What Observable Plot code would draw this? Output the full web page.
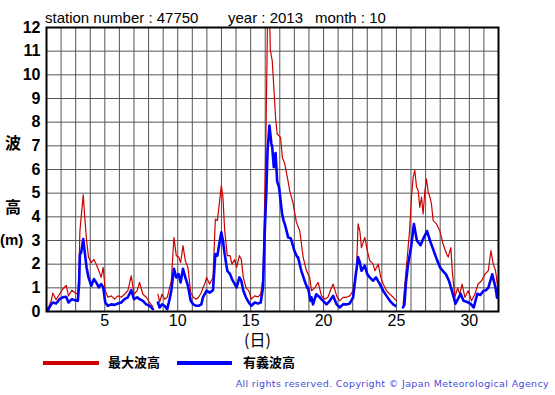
<!DOCTYPE html>
<html>
<head>
<meta charset="utf-8">
<script src="https://cdn.jsdelivr.net/npm/d3@7"></script>
<script src="https://cdn.jsdelivr.net/npm/@observablehq/plot@0.6"></script>
<style>
  html, body { margin: 0; padding: 0; background: #fff; }
  #wrap { position: relative; width: 555px; height: 395px; overflow: hidden; font-family: "Liberation Sans", Arial, sans-serif; }
  .t { position: absolute; white-space: pre; color: #000; line-height: 1; }
  .cjk { font-family: "Noto Sans CJK JP", sans-serif; font-weight: bold; }
  .leg { position: absolute; height: 4px; }
</style>
</head>
<body>
<div id="wrap"></div>
<script>
// ---- data ----
const tickDaysX = [5, 10, 15, 20, 25, 30];
const tickHeightsY = [0, 1, 2, 3, 4, 5, 6, 7, 8, 9, 10, 11, 12];

// significant wave height (有義波高)
const sigDays = [1.0, 1.09, 1.32, 1.43, 1.66, 1.89, 2.12, 2.35, 2.51, 2.74, 2.92, 3.15, 3.24, 3.29, 3.38, 3.52, 3.61, 3.75, 3.88, 4.07, 4.25, 4.41, 4.59, 4.75, 4.89, 5.03, 5.21, 5.44, 5.67, 5.90, 6.13, 6.35, 6.58, 6.81, 7.0, 7.22, 7.38, 7.61, 7.84, 8.07, 8.30, 8.45, 8.64, 8.76, 8.92, 9.10, 9.28, 9.44, 9.56, 9.74, 9.90, 10.06, 10.2, 10.36, 10.52, 10.70, 10.89, 11.07, 11.27, 11.43, 11.62, 11.73, 11.98, 12.19, 12.42, 12.58, 12.72, 12.85, 12.99, 13.1, 13.22, 13.4, 13.59, 13.72, 13.91, 14.04, 14.23, 14.36, 14.5, 14.68, 14.87, 15.05, 15.28, 15.51, 15.69, 15.85, 15.97, 16.08, 16.16, 16.29, 16.42, 16.48, 16.59, 16.71, 16.82, 16.95, 17.05, 17.16, 17.26, 17.34, 17.51, 17.57, 17.74, 17.8, 17.94, 18.0, 18.19, 18.25, 18.42, 18.48, 18.63, 18.7, 18.88, 18.94, 19.1, 19.17, 19.28, 19.5, 19.74, 19.97, 20.2, 20.43, 20.66, 20.9, 21.11, 21.34, 21.57, 21.8, 22.03, 22.2, 22.37, 22.49, 22.6, 22.83, 23.0, 23.17, 23.4, 23.6, 23.86, 24.09, 24.32, 24.55, 24.78, 24.94, 25.2, 25.45, 25.55, 25.65, 25.8, 26.0, 26.2, 26.4, 26.65, 26.86, 27.1, 27.3, 27.55, 27.8, 28.0, 28.2, 28.4, 28.6, 28.8, 29.05, 29.2, 29.4, 29.6, 29.85, 30.08, 30.3, 30.55, 30.75, 30.97, 31.15, 31.3, 31.57, 31.8, 31.9, 32.0];
const sigHeights = [0.1, 0.05, 0.30, 0.38, 0.34, 0.52, 0.60, 0.62, 0.38, 0.52, 0.48, 0.45, 1.2, 2.4, 2.5, 3.06, 2.57, 1.86, 1.44, 1.09, 1.37, 1.23, 1.02, 1.16, 1.02, 0.38, 0.24, 0.30, 0.28, 0.34, 0.38, 0.52, 0.60, 0.90, 0.52, 0.60, 0.52, 0.45, 0.30, 0.24, 0.10, NaN, 0.38, 0.17, 0.30, 0.24, 0.10, 0.52, 0.88, 1.80, 1.44, 1.58, 1.23, 1.80, 1.44, 1.09, 0.45, 0.30, 0.24, 0.24, 0.30, 0.60, 0.88, 0.80, 0.90, 2.43, 2.36, 2.85, 3.35, 3.0, 2.43, 1.72, 1.58, 1.37, 1.16, 1.02, 1.44, 1.30, 0.88, 0.60, 0.38, 0.24, 0.38, 0.34, 0.38, 1.02, 3.4, 5.1, 6.8, 7.86, 7.1, 6.95, 6.1, 6.7, 5.5, 5.25, 4.7, 4.12, 3.84, 3.7, 3.3, 3.13, 3.1, 3.0, 2.7, 2.57, 2.3, 2.3, 1.86, 1.72, 1.43, 1.3, 1.0, 1.0, 0.45, 0.6, 0.3, 0.73, 0.6, 0.45, 0.3, 0.45, 0.66, 0.3, 0.17, 0.3, 0.3, 0.34, 0.6, 1.5, 2.3, 2.07, 1.72, 1.94, 1.58, 1.44, 1.3, 1.44, 1.16, 0.88, 0.66, 0.45, 0.3, 0.24, NaN, 0.17, 0.3, 1.2, 2.0, 2.7, 3.7, 3.0, 2.8, 3.1, 3.4, 3.0, 2.57, 2.15, 1.86, 1.7, 1.57, 1.3, 0.88, 0.33, 0.5, 0.75, 0.45, 0.4, 0.33, 0.17, 0.75, 0.7, 0.88, 0.9, 1.0, 1.57, 1.0, 0.58, 0.95];

// maximum wave height (最大波高)
const maxDays = [1.0, 1.09, 1.32, 1.43, 1.66, 1.89, 2.12, 2.35, 2.51, 2.74, 2.92, 3.15, 3.24, 3.29, 3.38, 3.52, 3.61, 3.75, 3.88, 4.07, 4.25, 4.41, 4.59, 4.75, 4.89, 5.03, 5.21, 5.44, 5.67, 5.90, 6.13, 6.35, 6.58, 6.81, 7.0, 7.22, 7.38, 7.61, 7.84, 8.07, 8.30, 8.45, 8.64, 8.76, 8.92, 9.10, 9.28, 9.44, 9.56, 9.74, 9.90, 10.06, 10.2, 10.36, 10.52, 10.70, 10.89, 11.07, 11.27, 11.43, 11.62, 11.73, 11.85, 11.98, 12.19, 12.42, 12.58, 12.72, 12.85, 12.99, 13.1, 13.22, 13.4, 13.59, 13.72, 13.91, 14.04, 14.23, 14.36, 14.5, 14.68, 14.87, 15.05, 15.28, 15.51, 15.69, 15.85, 15.97, 16.05, 16.12, 16.16, 16.3, 16.35, 16.48, 16.59, 16.71, 16.82, 17.05, 17.18, 17.34, 17.57, 17.68, 17.9, 18.14, 18.37, 18.6, 18.83, 19.05, 19.17, 19.4, 19.63, 19.86, 20.08, 20.3, 20.54, 20.66, 20.9, 21.1, 21.34, 21.57, 21.8, 22.03, 22.26, 22.37, 22.49, 22.6, 22.83, 23.0, 23.17, 23.4, 23.52, 23.75, 23.93, 24.09, 24.32, 24.55, 24.78, 25.0, 25.2, 25.46, 25.62, 25.8, 25.9, 26.03, 26.15, 26.26, 26.38, 26.49, 26.6, 26.72, 26.83, 26.95, 27.06, 27.18, 27.3, 27.4, 27.52, 27.75, 27.98, 28.2, 28.44, 28.55, 28.73, 28.83, 29.0, 29.2, 29.35, 29.5, 29.7, 29.92, 30.15, 30.38, 30.6, 30.84, 31.07, 31.3, 31.48, 31.64, 31.8, 31.95, 32.0];
const maxHeights = [0.2, 0.10, 0.45, 0.78, 0.50, 0.73, 0.95, 1.10, 0.66, 0.90, 0.80, 0.73, 2.0, 3.4, 4.0, 4.93, 4.1, 3.0, 2.3, 2.07, 2.2, 2.0, 1.72, 1.44, 1.86, 0.88, 0.60, 0.66, 0.52, 0.66, 0.60, 0.73, 0.88, 1.51, 0.73, 0.88, 1.23, 0.73, 0.60, 0.38, 0.20, NaN, 0.73, 0.4, 0.73, 0.52, 0.60, 1.0, 1.3, 3.13, 2.36, 2.3, 2.07, 2.78, 2.15, 1.86, 0.80, 0.60, 0.52, 0.60, 0.80, 1.0, 1.16, 1.44, 1.16, 1.44, 3.9, 3.84, 4.55, 5.32, 4.83, 3.42, 2.36, 2.36, 2.0, 2.2, 1.86, 2.36, 2.2, 1.44, 1.0, 0.88, 0.52, 0.66, 0.62, 0.73, 1.44, 4.83, 7.5, 10.5, 12.6, 12.5, 11.05, 10.6, 9.5, 8.2, 7.5, 7.36, 6.5, 6.24, 5.5, 5.1, 4.6, 3.77, 3.4, 2.3, 1.72, 1.44, 0.88, 1.0, 1.23, 0.66, 0.52, 0.6, 1.0, 1.16, 0.66, 0.45, 0.6, 0.6, 0.66, 0.88, 1.72, 3.7, 3.4, 2.7, 3.13, 2.57, 2.15, 2.0, 1.72, 2.0, 1.44, 1.16, 0.88, 0.73, 0.6, 0.45, NaN, 0.31, 1.44, 2.7, 3.4, 4.83, 5.68, 5.96, 5.25, 5.11, 4.4, 4.83, 4.12, 5.1, 5.6, 5.04, 4.83, 4.55, 3.84, 3.7, 3.4, 2.85, 2.43, 2.3, 2.7, 1.72, 0.6, 1.0, 0.73, 1.16, 0.6, 0.88, 0.45, 0.73, 1.16, 1.3, 1.58, 1.72, 2.57, 2.0, 1.72, 1.0, 1.58];

const seriesNames = ["最大波高", "有義波高"];
const seriesColors = ["#cc0000", "#0000ff"];

// ---- build tables ----
const sigData = sigDays.map((d, i) => ({day: d, h: sigHeights[i]}));
const maxData = maxDays.map((d, i) => ({day: d, h: maxHeights[i]}));

const chart = Plot.plot({
  width: 555,
  height: 395,
  marginTop: 27,
  marginBottom: 84,
  marginLeft: 46,
  marginRight: 57,
  style: {background: "#fff", fontFamily: "'Liberation Sans', Arial, sans-serif"},
  x: {domain: [1, 32], ticks: tickDaysX},
  y: {domain: [0, 12], ticks: tickHeightsY},
  marks: [
    Plot.gridX(d3.range(2, 32), {stroke: "#555", strokeOpacity: 1, strokeWidth: 1}),
    Plot.gridY(d3.range(1, 12), {stroke: "#555", strokeOpacity: 1, strokeWidth: 1}),
    Plot.line(maxData, {x: "day", y: "h", stroke: seriesColors[0], strokeWidth: 1.2, clip: true}),
    Plot.line(sigData, {x: "day", y: "h", stroke: seriesColors[1], strokeWidth: 2.6, clip: true}),
    Plot.frame({stroke: "#000", strokeWidth: 2}),
    Plot.axisX(tickDaysX, {tickSize: 0, tickPadding: 3, fontSize: 16, label: null, color: "#000"}),
    Plot.axisY(tickHeightsY, {tickSize: 0, tickPadding: 6, fontSize: 16, fontWeight: "bold", label: null, color: "#000"})
  ]
});

const wrap = document.getElementById("wrap");
chart.style.position = "absolute";
chart.style.left = "0px";
chart.style.top = "0px";
wrap.appendChild(chart);

function addText(txt, left, top, css, cls) {
  const el = document.createElement("div");
  el.className = "t" + (cls ? " " + cls : "");
  el.textContent = txt;
  el.style.left = left + "px";
  el.style.top = top + "px";
  Object.assign(el.style, css || {});
  wrap.appendChild(el);
  return el;
}

// title
addText("station number : 47750", 45, 10, {fontSize: "15px"});
addText("year : 2013", 228, 10, {fontSize: "15px"});
addText("month : 10", 315, 10, {fontSize: "15px"});

// y axis label
addText("波", 5, 134, {fontSize: "16px"}, "cjk");
addText("高", 5, 198, {fontSize: "16px"}, "cjk");
addText("(m)", 0, 232, {fontSize: "15px", fontWeight: "bold"}, "");

// x axis label
addText("(日)", 244, 331, {fontSize: "16px", fontWeight: "normal"}, "cjk");

// legend
const l1 = document.createElement("div");
l1.className = "leg"; l1.style.left = "43px"; l1.style.top = "361px"; l1.style.width = "56px"; l1.style.background = seriesColors[0];
wrap.appendChild(l1);
addText(seriesNames[0], 108, 355, {fontSize: "13px"}, "cjk");
const l2 = document.createElement("div");
l2.className = "leg"; l2.style.left = "177px"; l2.style.top = "361px"; l2.style.width = "55px"; l2.style.background = seriesColors[1];
wrap.appendChild(l2);
addText(seriesNames[1], 243, 355, {fontSize: "13px"}, "cjk");

// copyright
const c = addText("All rights reserved. Copyright © Japan Meteorological Agency", 0, 379,
  {fontSize: "9.5px", color: "#4a4ad8", letterSpacing: "0.35px", fontFamily: "'DejaVu Sans', Verdana, sans-serif"});
c.style.left = "auto";
c.style.right = "6px";
</script>
</body>
</html>
